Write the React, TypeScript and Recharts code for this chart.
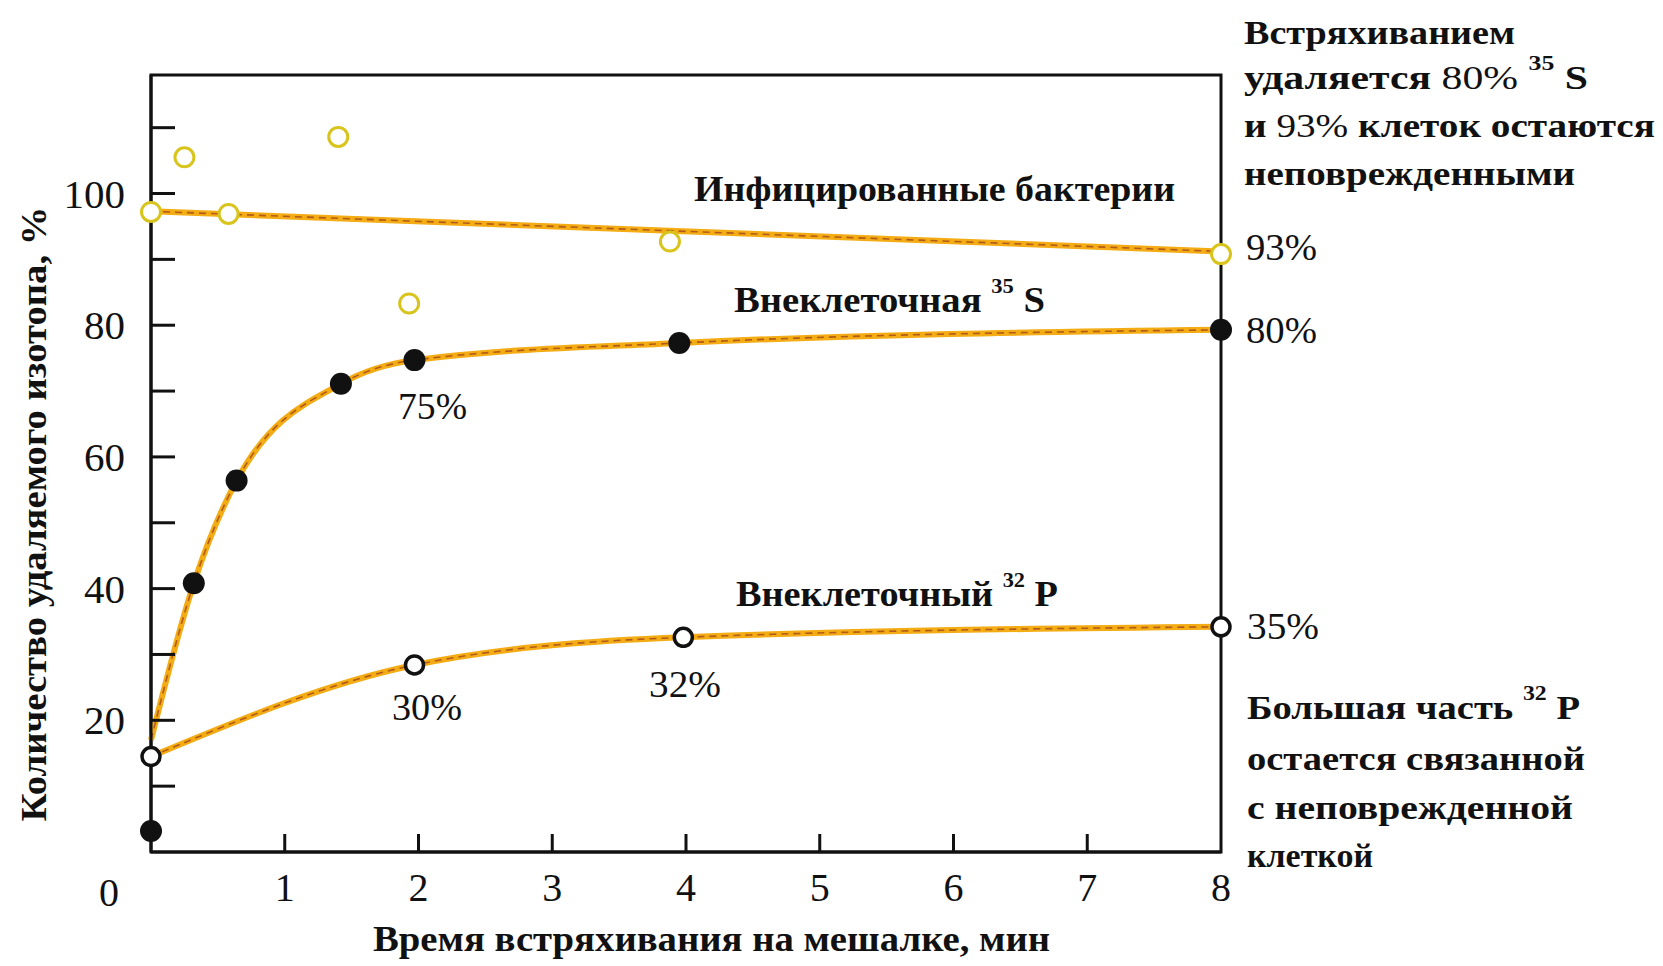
import React from "react";
import { ComposedChart, Line, Scatter, XAxis, YAxis, ReferenceArea } from "recharts";

// ---- data (x = shaking time, min; y = % of isotope removed) ----
const xTicks = [1, 2, 3, 4, 5, 6, 7, 8];
const yTicks = [10, 20, 30, 40, 50, 60, 70, 80, 90, 100, 110];
const yLabelled = [20, 40, 60, 80, 100];
const xDomain = [0, 8];
const yDomain = [0, 118];

const bacteriaPoints = [
  { x: 0, y: 97.2 },
  { x: 0.25, y: 105.5 },
  { x: 0.58, y: 96.9 },
  { x: 1.4, y: 108.6 },
  { x: 1.93, y: 83.3 },
  { x: 3.88, y: 92.7 },
  { x: 8, y: 90.8 },
];
const bacteriaFit = [
  { x: 0, y: 97.3 },
  { x: 8, y: 91.2 },
];

const s35Points = [
  { x: 0, y: 3.2 },
  { x: 0.32, y: 40.8 },
  { x: 0.64, y: 56.4 },
  { x: 1.42, y: 71.1 },
  { x: 1.97, y: 74.7 },
  { x: 3.95, y: 77.3 },
  { x: 8, y: 79.3 },
];
const s35Curve = [
  { x: 0, y: 17 },
  { x: 0.32, y: 40.8 },
  { x: 0.64, y: 56.4 },
  { x: 1.42, y: 71.1 },
  { x: 1.97, y: 74.7 },
  { x: 3.95, y: 77.3 },
  { x: 8, y: 79.3 },
];

const p32Points = [
  { x: 0, y: 14.5 },
  { x: 1.97, y: 28.4 },
  { x: 3.98, y: 32.6 },
  { x: 8, y: 34.2 },
];
const p32Curve = [
  { x: 0, y: 14.5 },
  { x: 1.97, y: 28.4 },
  { x: 3.98, y: 32.6 },
  { x: 8, y: 34.2 },
];

const W = 1663;
const H = 966;
const INK = "#111111";
const ORANGE = "#F3AC14";
const CORE = "#B45A1A";
const YELLOW = "#D8C41C";
const FONT = "'Liberation Serif', 'DejaVu Serif', serif";

const XTick = (props: any) => {
  const { x, y, payload } = props;
  const v = payload.value;
  return (
    <g>
      {v < 8 && <line x1={x} y1={y} x2={x} y2={y - 18} stroke={INK} strokeWidth={3} />}
      <text x={x} y={y + 35} textAnchor="middle" dominantBaseline="central" fontFamily={FONT} fontSize={40} fill={INK}>
        {v}
      </text>
    </g>
  );
};

const YTick = (props: any) => {
  const { x, y, payload } = props;
  const v = payload.value;
  return (
    <g>
      <line x1={x} y1={y} x2={x + 24} y2={y} stroke={INK} strokeWidth={3} />
      {yLabelled.includes(v) && (
        <text x={x - 26} y={y} textAnchor="end" dominantBaseline="central" fontFamily={FONT} fontSize={41} fill={INK}>
          {v}
        </text>
      )}
    </g>
  );
};

const openYellow = (p: any) => (
  <circle cx={p.cx} cy={p.cy} r={9.5} fill="#fff" stroke={YELLOW} strokeWidth={3} />
);
const filledBlack = (p: any) => <circle cx={p.cx} cy={p.cy} r={11} fill={INK} />;
const openBlack = (p: any) => (
  <circle cx={p.cx} cy={p.cy} r={9} fill="#fff" stroke={INK} strokeWidth={3.5} />
);

const T = (props: any) => {
  const { x, y, w, bold, size, children, anchor } = props;
  return (
    <text
      x={x}
      y={y}
      textAnchor={anchor || "start"}
      dominantBaseline="central"
      fontFamily={FONT}
      fontWeight={bold ? 700 : 400}
      fontSize={size || 32}
      fill={INK}
      textLength={w}
      lengthAdjust="spacingAndGlyphs"
    >
      {children}
    </text>
  );
};

const Sup = ({ children }: any) => (
  <>
    <tspan fontSize={21} dy={-14}>{children}</tspan>
    <tspan dy={14}> </tspan>
  </>
);

export default function App() {
  return (
    <div style={{ position: "absolute", left: 0, top: 0, width: W, height: H, background: "#fff" }}>
      <ComposedChart width={W} height={H} margin={{ top: 75, right: 442, bottom: 0, left: 0 }}>
        <XAxis
          dataKey="x"
          type="number"
          domain={xDomain}
          ticks={xTicks}
          interval={0}
          height={114}
          tickSize={0}
          tickMargin={0}
          tickLine={false}
          axisLine={{ stroke: INK, strokeWidth: 3 }}
          tick={<XTick />}
        />
        <YAxis
          dataKey="y"
          type="number"
          domain={yDomain}
          ticks={yTicks}
          interval={0}
          width={151}
          tickSize={0}
          tickMargin={0}
          tickLine={false}
          axisLine={{ stroke: INK, strokeWidth: 3 }}
          tick={<YTick />}
        />
        <ReferenceArea
          x1={xDomain[0]}
          x2={xDomain[1]}
          y1={yDomain[0]}
          y2={yDomain[1]}
          fill="none"
          fillOpacity={0}
          stroke={INK}
          strokeWidth={3}
          ifOverflow="visible"
        />

        <Line data={bacteriaFit} dataKey="y" type="linear" stroke={ORANGE} strokeWidth={6} dot={false} isAnimationActive={false} />
        <Line data={bacteriaFit} dataKey="y" type="linear" stroke={CORE} strokeWidth={1.6} strokeDasharray="7 5" dot={false} isAnimationActive={false} />
        <Line data={s35Curve} dataKey="y" type="monotone" stroke={ORANGE} strokeWidth={6} dot={false} isAnimationActive={false} />
        <Line data={s35Curve} dataKey="y" type="monotone" stroke={CORE} strokeWidth={1.6} strokeDasharray="7 5" dot={false} isAnimationActive={false} />
        <Line data={p32Curve} dataKey="y" type="monotone" stroke={ORANGE} strokeWidth={6} dot={false} isAnimationActive={false} />
        <Line data={p32Curve} dataKey="y" type="monotone" stroke={CORE} strokeWidth={1.6} strokeDasharray="7 5" dot={false} isAnimationActive={false} />

        <Scatter data={bacteriaPoints} dataKey="y" shape={openYellow} isAnimationActive={false} />
        <Scatter data={s35Points} dataKey="y" shape={filledBlack} isAnimationActive={false} />
        <Scatter data={p32Points} dataKey="y" shape={openBlack} isAnimationActive={false} />
      </ComposedChart>

      <svg width={W} height={H} style={{ position: "absolute", left: 0, top: 0, pointerEvents: "none" }}>
        {/* origin label */}
        <T x={109} y={892} size={40} anchor="middle">0</T>

        {/* axis titles */}
        <T x={373} y={939} w={677} bold size={36}>Время встряхивания на мешалке, мин</T>
        <g transform="rotate(-90, 34, 514)">
          <T x={34} y={514} w={615} bold size={36} anchor="middle">Количество удаляемого изотопа, %</T>
        </g>

        {/* series labels */}
        <T x={694} y={189} w={481} bold size={36}>Инфицированные бактерии</T>
        <T x={734} y={300} w={311} bold size={36}>
          Внеклеточная <Sup>35</Sup>S
        </T>
        <T x={736} y={594} w={322} bold size={36}>
          Внеклеточный <Sup>32</Sup>P
        </T>

        {/* point labels */}
        <T x={398} y={406} w={69} size={38}>75%</T>
        <T x={392} y={707} w={70} size={38}>30%</T>
        <T x={649} y={684} w={72} size={38}>32%</T>

        {/* right-side labels */}
        <T x={1246} y={247} w={71} size={38}>93%</T>
        <T x={1246} y={330} w={71} size={38}>80%</T>
        <T x={1247} y={626} w={72} size={38}>35%</T>

        <T x={1244} y={32} w={271} bold size={34}>Встряхиванием</T>
        <T x={1244} y={77} w={344} bold size={34}>
          удаляется <tspan fontWeight={400}>80%</tspan> <Sup>35</Sup>S
        </T>
        <T x={1244} y={125} w={411} bold size={34}>
          и <tspan fontWeight={400}>93%</tspan> клеток остаются
        </T>
        <T x={1244} y={173} w={331} bold size={34}>неповрежденными</T>

        <T x={1247} y={707} w={333} bold size={34}>
          Большая часть <Sup>32</Sup>P
        </T>
        <T x={1247} y={758} w={338} bold size={34}>остается связанной</T>
        <T x={1247} y={807} w={326} bold size={34}>с неповрежденной</T>
        <T x={1247} y={855} w={126} bold size={34}>клеткой</T>
      </svg>
    </div>
  );
}
